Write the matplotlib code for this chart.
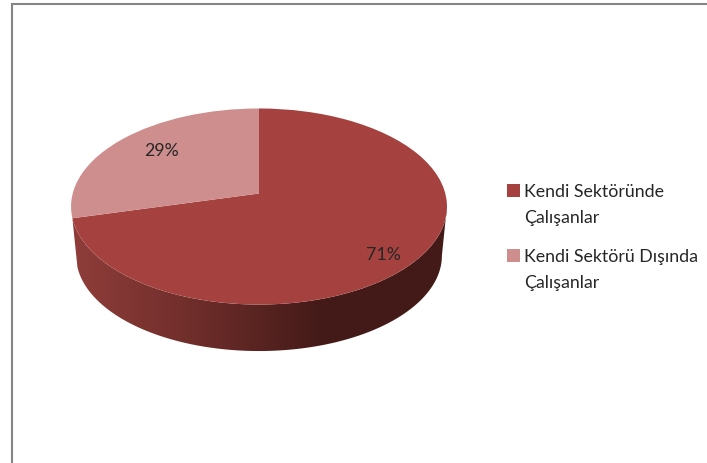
#!/usr/bin/env python3
'''
Flat pie with a fake 3D look: the pie is drawn on the unit circle and pushed
through a perspective transform, the wall is a clipped gradient.
'''
import numpy as np
from matplotlib import pyplot as plt
from matplotlib.colors import LinearSegmentedColormap
from matplotlib.patches import Polygon, Rectangle
from matplotlib.transforms import Transform

labels = ['Kendi Sektöründe\nÇalışanlar', 'Kendi Sektörü Dışında\nÇalışanlar']
values = [71, 29]
pct_labels = ['71%', '29%']
colors = ['#A5423F', '#CE8E8D']
wall_colors = ['#8F3D3A', '#6E2D2A', '#431A18', '#431A18']

plt.rcParams['font.family'] = ['Lato', 'DejaVu Sans']
TEXT = '#262626'
TILT = 0.1327


class Perspective(Transform):
    # unit circle -> image pixels
    input_dims = 2
    output_dims = 2

    def __init__(self, cx, cy, scale=1.0):
        super().__init__()
        self.cx, self.cy, self.scale = cx, cy, scale

    def transform_non_affine(self, xy):
        xy = np.asarray(xy)
        w = 1 + TILT * xy[:, 1]
        px = self.cx + self.scale * 186.3 * xy[:, 0] / w
        py = self.cy - self.scale * 96.3 * xy[:, 1] / w
        return np.column_stack([px, py])


fig = plt.figure(figsize=(7.07, 4.64), dpi=100)
ax = fig.add_axes([0, 0, 1, 1])

top = Perspective(259, 194.5)
bottom = Perspective(259, 244, 0.973)

wedges, _ = ax.pie(values, colors=colors, startangle=90, counterclock=False)
for w in wedges:
    w.set_transform(w.get_transform() - ax.transData + top + ax.transData)
    w.set_zorder(3)
    w.set_linewidth(0)

ax.set_aspect('auto')
ax.set_xlim(0, 707)
ax.set_ylim(464, 0)
ax.axis('off')

# side wall, from the right edge of the pie round to the end of the first slice
start = -np.arcsin(TILT)
end = np.pi / 2 - 2 * np.pi * values[0] / sum(values)
t = np.linspace(start, end, 300)
rim = np.column_stack([np.cos(t), np.sin(t)])
outline = np.vstack([top.transform(rim), bottom.transform(rim)[::-1]])
wall = Polygon(outline, closed=True, fc='none', ec='none', transform=ax.transData)
ax.add_patch(wall)
cmap = LinearSegmentedColormap.from_list('wall', wall_colors)
img = ax.imshow(np.linspace(0, 1, 256)[None, :], cmap=cmap, aspect='auto',
    extent=[72, 447, 360, 200], zorder=2)
img.set_clip_path(wall)
ax.set_xlim(0, 707)
ax.set_ylim(464, 0)

ax.text(383, 254.5, pct_labels[0], ha='center', va='center', color=TEXT, fontsize=12.8)
ax.text(161, 151.5, pct_labels[1], ha='center', va='center', color=TEXT, fontsize=12.8)

# legend
ys = [192, 257]
for y, lab, col in zip(ys, labels, colors):
    ax.add_patch(Rectangle((507, y - 7), 12.5, 13, fc=col, ec='none', zorder=3))
    first, second = lab.split('\n')
    ax.text(524, y, first, ha='left', va='center', color=TEXT, fontsize=12.8)
    ax.text(524, y + 26.5, second, ha='left', va='center', color=TEXT, fontsize=12.8)

# border, only top and left are in the crop
ax.plot([707, 12, 12], [5, 5, 464], color='#868686', lw=1.5, solid_joinstyle='miter', zorder=5)

plt.savefig('out.png', dpi=100)
